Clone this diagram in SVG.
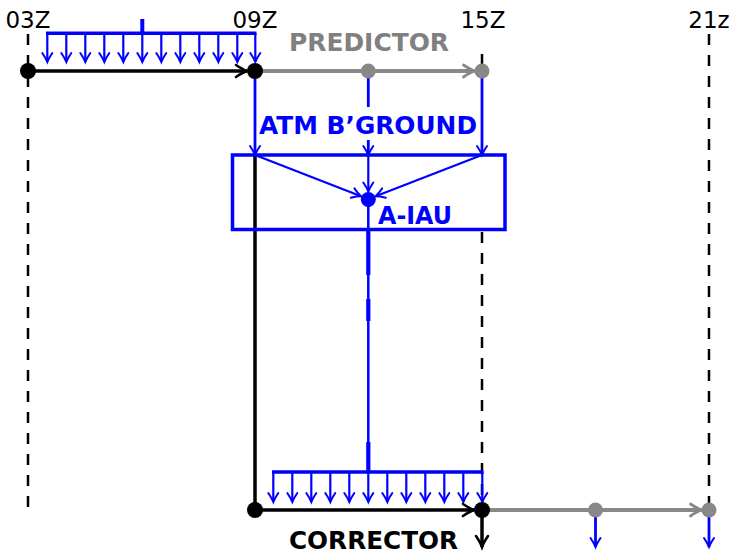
<svg xmlns="http://www.w3.org/2000/svg" width="732" height="554" viewBox="0 0 732 554">
<defs>
<style>
.dash{stroke:#000;stroke-width:2.5;stroke-dasharray:11 10;fill:none}
.blk{stroke:#000;stroke-width:3.5;fill:none}
.gry{stroke:#888;stroke-width:3.8;fill:none}
.blu{stroke:#00f;stroke-width:2.2;fill:none}
.bluM{stroke:#00f;stroke-width:2.8;fill:none}
.bluT{stroke:#00f;stroke-width:3.4;fill:none}
.lbl{font-family:"DejaVu Sans","Liberation Sans",sans-serif;font-size:23px;text-anchor:middle;fill:#000}
.bold{font-family:"DejaVu Sans","Liberation Sans",sans-serif;font-weight:bold;font-size:24px}
.ab{marker-end:url(#mb)}
</style>
<marker id="mb" markerUnits="userSpaceOnUse" markerWidth="14" markerHeight="14" viewBox="-11 -7 14 14" refX="0" refY="0" orient="auto" overflow="visible">
<path d="M-9,-5 Q-3.5,-1.3 0,0 Q-3.5,1.3 -9,5" fill="none" stroke="#00f" stroke-width="2" stroke-linecap="round"/>
</marker>
<marker id="mk" markerUnits="userSpaceOnUse" markerWidth="16" markerHeight="16" viewBox="-13 -8 16 16" refX="0" refY="0" orient="auto" overflow="visible">
<path d="M-11,-6 Q-4.5,-1.6 0,0 Q-4.5,1.6 -11,6" fill="none" stroke="#000" stroke-width="2.6" stroke-linecap="round"/>
</marker>
<marker id="mg" markerUnits="userSpaceOnUse" markerWidth="16" markerHeight="16" viewBox="-13 -8 16 16" refX="0" refY="0" orient="auto" overflow="visible">
<path d="M-11,-6 Q-4.5,-1.6 0,0 Q-4.5,1.6 -11,6" fill="none" stroke="#888" stroke-width="2.8" stroke-linecap="round"/>
</marker>
</defs>
<rect width="732" height="554" fill="#fff"/>

<g id="gridlines">
<line class="dash" x1="28" y1="34" x2="28" y2="510"/>
<line class="dash" x1="709" y1="34" x2="709" y2="510"/>
<line class="dash" x1="482" y1="54" x2="482" y2="64"/>
<line class="dash" x1="482" y1="232" x2="482" y2="510"/>
</g>

<g id="time-labels">
<text class="lbl" x="28" y="28">03Z</text>
<text class="lbl" x="255" y="28">09Z</text>
<text class="lbl" x="483" y="28">15Z</text>
<text class="lbl" x="709" y="28">21z</text>
</g>

<g id="connectors">
<line class="bluT" x1="46" y1="33.3" x2="256.5" y2="33.3"/>
<line stroke="#00f" stroke-width="4" x1="142.3" y1="19" x2="142.3" y2="33"/>
<g class="blu">
<line class="ab" x1="47.3" y1="33" x2="47.3" y2="62"/>
<line class="ab" x1="66.3" y1="33" x2="66.3" y2="62"/>
<line class="ab" x1="85.3" y1="33" x2="85.3" y2="62"/>
<line class="ab" x1="104.3" y1="33" x2="104.3" y2="62"/>
<line class="ab" x1="123.3" y1="33" x2="123.3" y2="62"/>
<line class="ab" x1="142.3" y1="33" x2="142.3" y2="62"/>
<line class="ab" x1="161.3" y1="33" x2="161.3" y2="62"/>
<line class="ab" x1="180.3" y1="33" x2="180.3" y2="62"/>
<line class="ab" x1="199.3" y1="33" x2="199.3" y2="62"/>
<line class="ab" x1="218.3" y1="33" x2="218.3" y2="62"/>
<line class="ab" x1="237.3" y1="33" x2="237.3" y2="62"/>
<line class="ab" x1="255.3" y1="33" x2="255.3" y2="62"/>
</g>

<line class="blk" x1="28" y1="71" x2="247" y2="71" marker-end="url(#mk)"/>
<line class="gry" x1="255" y1="71" x2="474.5" y2="71" marker-end="url(#mg)"/>

<line class="bluM ab" x1="255" y1="71" x2="255" y2="155"/>
<line class="bluM ab" x1="368.3" y1="71" x2="368.3" y2="155"/>
<line class="bluM ab" x1="482" y1="71" x2="482" y2="155"/>

<line class="blk" x1="255" y1="155" x2="255" y2="510"/>

<line class="blu ab" x1="255" y1="155" x2="361" y2="196.3"/>
<line class="blu ab" x1="368.3" y1="155" x2="368.3" y2="191.5"/>
<line class="blu ab" x1="482" y1="155" x2="375.6" y2="196.3"/>

<line stroke="#00f" stroke-width="2.5" x1="368.3" y1="199" x2="368.3" y2="472"/>
<line stroke="#00f" stroke-width="4.2" x1="368.3" y1="230" x2="368.3" y2="275"/>
<line stroke="#00f" stroke-width="4.2" x1="368.3" y1="299" x2="368.3" y2="321"/>
<line stroke="#00f" stroke-width="4.2" x1="368.3" y1="442" x2="368.3" y2="471"/>

<line class="bluT" x1="272" y1="472" x2="483.5" y2="472"/>
<g class="blu">
<line class="ab" x1="273.3" y1="472" x2="273.3" y2="502"/>
<line class="ab" x1="292.3" y1="472" x2="292.3" y2="502"/>
<line class="ab" x1="311.3" y1="472" x2="311.3" y2="502"/>
<line class="ab" x1="330.3" y1="472" x2="330.3" y2="502"/>
<line class="ab" x1="349.3" y1="472" x2="349.3" y2="502"/>
<line class="ab" x1="368.3" y1="472" x2="368.3" y2="502"/>
<line class="ab" x1="387.3" y1="472" x2="387.3" y2="502"/>
<line class="ab" x1="406.3" y1="472" x2="406.3" y2="502"/>
<line class="ab" x1="425.3" y1="472" x2="425.3" y2="502"/>
<line class="ab" x1="444.3" y1="472" x2="444.3" y2="502"/>
<line class="ab" x1="463.3" y1="472" x2="463.3" y2="502"/>
<line class="ab" x1="482.3" y1="472" x2="482.3" y2="502"/>
</g>

<line class="blk" x1="255" y1="510" x2="474" y2="510" marker-end="url(#mk)"/>
<line class="gry" x1="482" y1="510" x2="701.5" y2="510" marker-end="url(#mg)"/>
<line class="blk" x1="482" y1="510" x2="482" y2="547" marker-end="url(#mk)"/>
<line class="bluM ab" x1="595.5" y1="510" x2="595.5" y2="547"/>
<line class="bluM ab" x1="709" y1="510" x2="709" y2="547"/>
</g>

<g id="node-03Z"><circle cx="28" cy="71" r="8" fill="#000"/></g>
<g id="node-09Z"><circle cx="255" cy="71" r="8" fill="#000"/></g>
<g id="node-12Z"><circle cx="368.3" cy="71" r="7.5" fill="#888"/></g>
<g id="node-15Z"><circle cx="482" cy="71" r="7.5" fill="#888"/></g>

<g id="node-predictor">
<text class="bold" x="289" y="51" fill="#808080" textLength="160" lengthAdjust="spacingAndGlyphs">PREDICTOR</text>
</g>

<g id="node-atm-bground">
<rect x="300" y="107" width="150" height="33" fill="#fff"/>
<text class="bold" x="259" y="134" fill="#00f" textLength="218" lengthAdjust="spacingAndGlyphs">ATM B’GROUND</text>
</g>

<g id="node-a-iau">
<rect x="232.5" y="155" width="272.5" height="74.5" fill="none" stroke="#00f" stroke-width="3.5"/>
<circle cx="368.3" cy="199.5" r="7.5" fill="#00f"/>
<text class="bold" x="378" y="224" fill="#00f" textLength="74" lengthAdjust="spacingAndGlyphs">A-IAU</text>
</g>

<g id="node-corrector">
<circle cx="255" cy="510" r="8" fill="#000"/>
<circle cx="482" cy="510" r="8" fill="#000"/>
<circle cx="595.5" cy="510" r="7.5" fill="#888"/>
<circle cx="709" cy="510" r="7.5" fill="#888"/>
<text class="bold" x="289" y="549" fill="#000" textLength="169" lengthAdjust="spacingAndGlyphs">CORRECTOR</text>
</g>
</svg>
